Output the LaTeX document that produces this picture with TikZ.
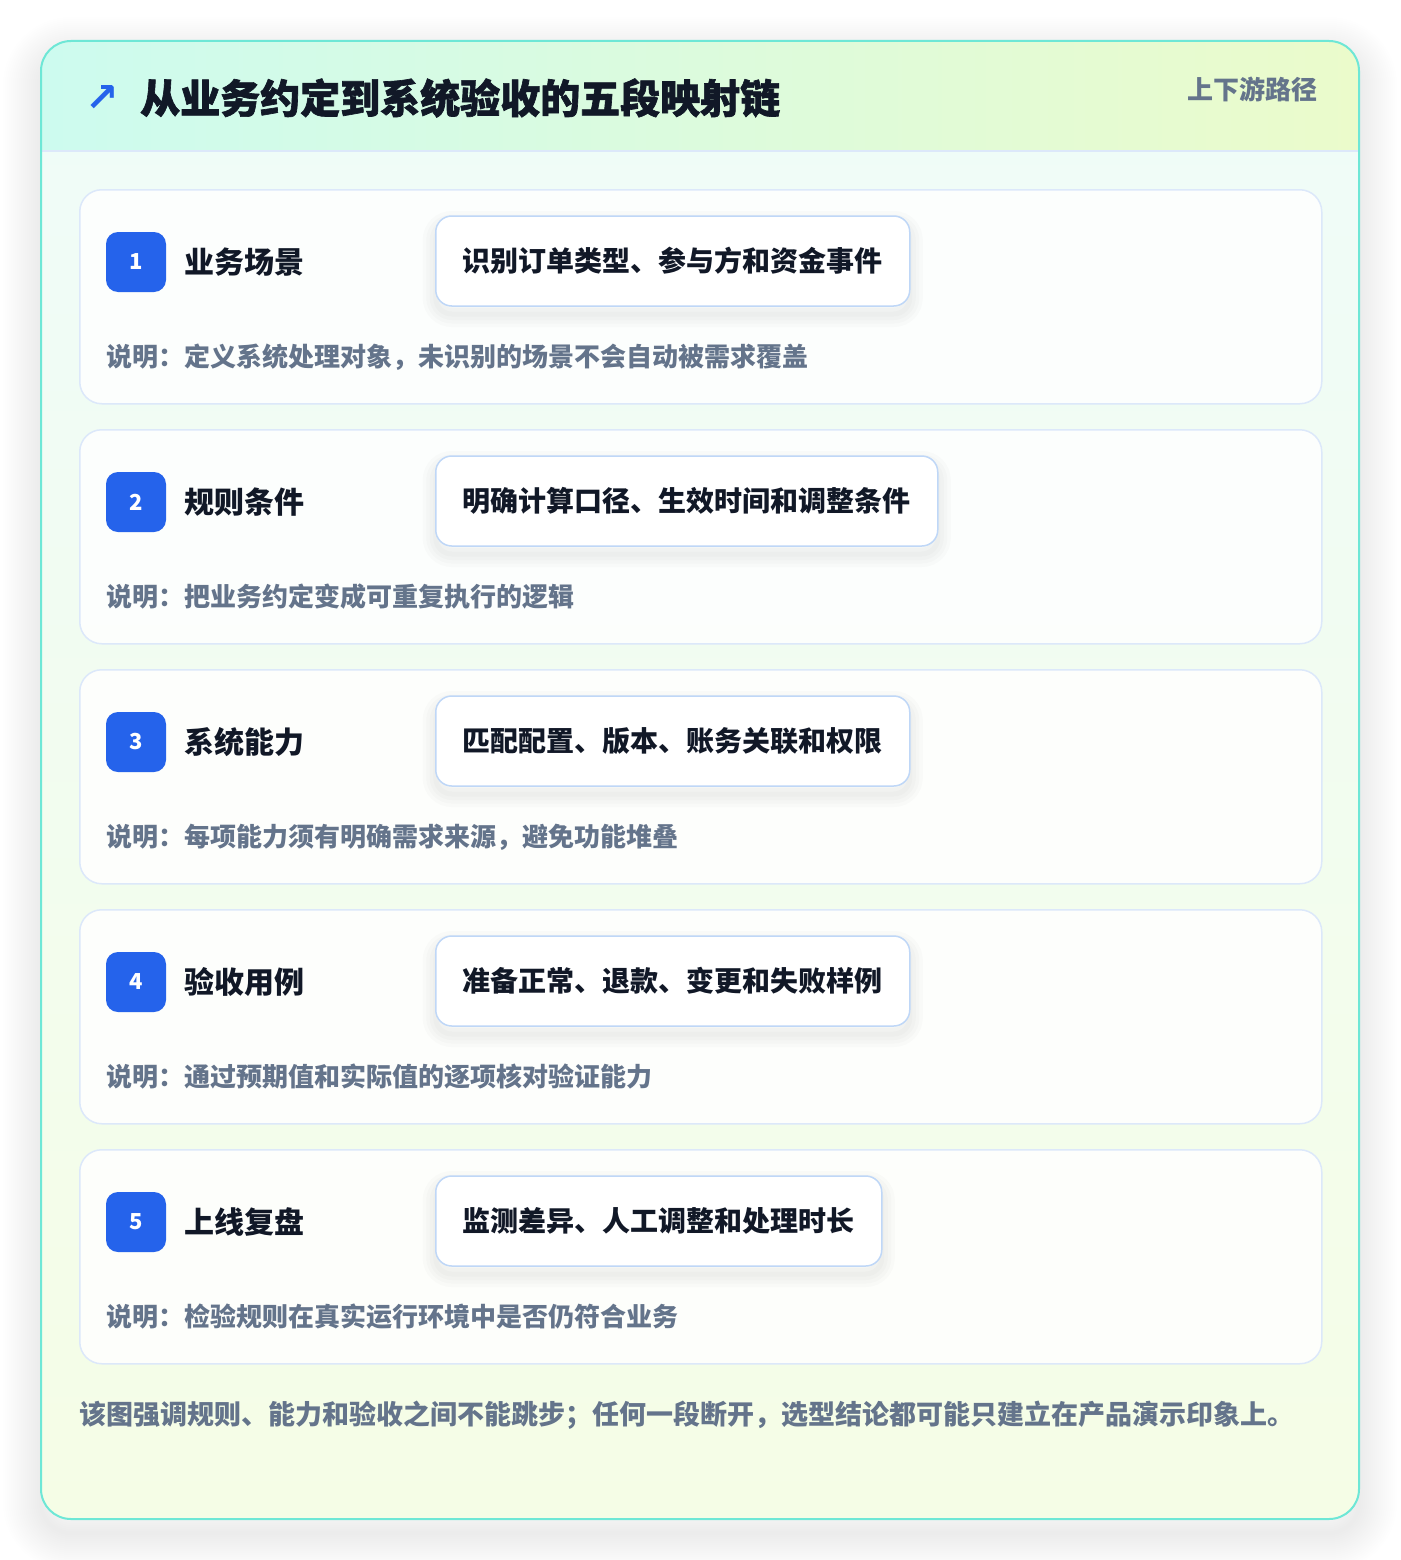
\documentclass[tikz,border=0pt]{standalone}
\usepackage{fontspec}
\setmainfont{Noto Sans CJK SC}
\newfontfamily\headfont{Noto Sans CJK SC}[BoldFeatures={FakeBold=1.6}]
\newfontfamily\symfont{DejaVu Sans}
\usetikzlibrary{positioning}

\definecolor{inkdark}{HTML}{111827}
\definecolor{inkgray}{HTML}{64748B}
\definecolor{badgeblue}{HTML}{2563EB}
\definecolor{cardedge}{HTML}{6EE7D6}
\definecolor{stageedge}{HTML}{DCE8FA}
\definecolor{goaledge}{HTML}{BFD7F7}
\definecolor{hdrleft}{HTML}{CDFBEF}
\definecolor{hdrright}{HTML}{EBFBCB}
\definecolor{bodytop}{HTML}{EFFCF9}
\definecolor{bodybottom}{HTML}{F5FDE6}

\begin{document}
\begin{tikzpicture}[
    x=1pt, y=-1pt,
    halo/.style n args={2}{preaction={draw=black, draw opacity=0.016, line width=#1, transform canvas={yshift=#2}}},
    stage/.style={draw=stageedge, line width=1.5pt, fill=white, fill opacity=0.85, rounded corners=22pt,
        minimum width=1242pt, minimum height=214pt, anchor=north west, inner sep=0pt},
    badge/.style={fill=badgeblue, rounded corners=12pt, minimum size=60pt, inner sep=0pt,
        text=white, font=\fontsize{22pt}{24pt}\selectfont\bfseries},
    stagename/.style={inner sep=0pt, anchor=west, text=inkdark, font=\fontsize{30pt}{34pt}\selectfont\bfseries},
    goal/.style={draw=goaledge, line width=1.5pt, fill=white, rounded corners=16pt, anchor=west,
        inner xsep=27pt, inner ysep=0pt, minimum height=90pt, text=inkdark,
        font=\fontsize{28pt}{32pt}\selectfont\bfseries,
        halo={26pt}{-8pt}, halo={19pt}{-8pt}, halo={12pt}{-8pt}, halo={5pt}{-8pt}},
    remark/.style={inner sep=0pt, anchor=west, text=inkgray, font=\fontsize{26pt}{30pt}\selectfont\bfseries}
]
\useasboundingbox (0,0) rectangle (1400,1560);
\fill[white] (0,0) rectangle (1400,1560);

% outer card with soft shadow
\foreach \w in {4,8,...,76}
    \draw[black, draw opacity=0.0042, line width=\w pt, rounded corners=30pt] (41,55) rectangle (1359,1533);
\fill[white, rounded corners=30pt] (41,41) rectangle (1359,1519);
\begin{scope}
    \clip[rounded corners=30pt] (41,41) rectangle (1359,1519);
    \shade[top color=bodytop, bottom color=bodybottom] (41,41) rectangle (1359,1519);
    \shade[left color=hdrleft, right color=hdrright] (41,41) rectangle (1359,151);
    \draw[stageedge, line width=1.5pt] (41,151) -- (1359,151);
\end{scope}
\draw[cardedge, line width=2pt, rounded corners=30pt] (41,41) rectangle (1359,1519);

% header
\node[inner sep=0pt, text=badgeblue, font=\symfont\bfseries\fontsize{40pt}{42pt}\selectfont] (icon) at (102,99) {↗};
\node[inner sep=0pt, anchor=west, text=inkdark, font=\headfont\fontsize{40pt}{44pt}\selectfont\bfseries] (title) at (140,98)
    {从业务约定到系统验收的五段映射链};
\node[inner sep=0pt, anchor=east, text=inkgray, font=\fontsize{26pt}{30pt}\selectfont\bfseries] (tag) at (1318,89)
    {上下游路径};

% five stages
\foreach \i/\name/\target/\note in {
    1/业务场景/识别订单类型、参与方和资金事件/说明：定义系统处理对象，未识别的场景不会自动被需求覆盖,
    2/规则条件/明确计算口径、生效时间和调整条件/说明：把业务约定变成可重复执行的逻辑,
    3/系统能力/匹配配置、版本、账务关联和权限/说明：每项能力须有明确需求来源，避免功能堆叠,
    4/验收用例/准备正常、退款、变更和失败样例/说明：通过预期值和实际值的逐项核对验证能力,
    5/上线复盘/监测差异、人工调整和处理时长/说明：检验规则在真实运行环境中是否仍符合业务}{
    \pgfmathtruncatemacro\y{189+(\i-1)*240}
    \node[stage] (stage\i) at (79,\y) {};
    \node[badge] (badge\i) at (136,\y+73) {\i};
    \node[stagename, right=18pt of badge\i] (name\i) {\name};
    \node[goal] (goal\i) at (435,\y+72) {\target};
    \node[remark] (note\i) at (106,\y+168) {\note};
}

% footer
\node[inner sep=0pt, anchor=west, text=inkgray, font=\fontsize{27pt}{31pt}\selectfont\bfseries] (summary) at (79,1415)
    {该图强调规则、能力和验收之间不能跳步；任何一段断开，选型结论都可能只建立在产品演示印象上。};
\end{tikzpicture}
\end{document}
